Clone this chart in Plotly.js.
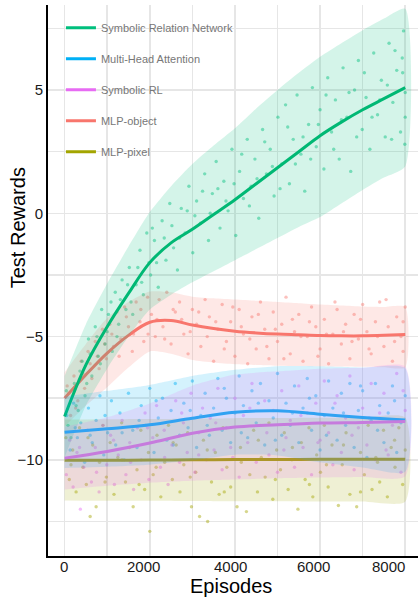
<!DOCTYPE html>
<html>
<head>
<meta charset="utf-8">
<script src="https://cdn.plot.ly/plotly-3.0.1.min.js"></script>
<style>html,body{margin:0;padding:0;background:#fff;}#chart{width:420px;height:597px;}</style>
</head>
<body>
<div id="chart"></div>
<script>
// ---- series names / colours ----
const seriesNames = ["Symbolic Relation Network", "Multi-Head Attention", "Symbolic RL", "MLP-object", "MLP-pixel"];
const legendColors = ["#00BF7D", "#00B0F6", "#E76BF3", "#F8766D", "#A3A500"];
const xTitle = "Episodes", yTitle = "Test Rewards";
const xTickVals = [0, 2000, 4000, 6000, 8000];
const xTickText = ["0", "2000", "4000", "6000", "8000"];

// ---- smoothed curves (mean and band) ----
const xFine = [0,500,1000,1500,2000,2500,3000,3500,4000,4500,5000,5500,6000,6500,7000,7500,8000];
const srnMid = [-8.24,-6.15,-4.6,-3.25,-2.0,-1.2,-0.65,-0.05,0.55,1.2,1.85,2.5,3.15,3.7,4.2,4.65,5.1];
const srnHi  = [-6.6,-4.5,-2.85,-1.35,0.05,1.1,2.0,2.75,3.45,4.25,5.0,5.7,6.35,6.9,7.43,7.9,8.3];
const srnLo  = [-9.9,-7.8,-6.3,-5.0,-3.9,-3.3,-2.8,-2.35,-1.9,-1.45,-1.0,-0.55,-0.15,0.4,0.95,1.45,1.9];

const mlpObjMid = [-7.5,-6.55,-5.67,-4.95,-4.42,-4.35,-4.53,-4.67,-4.78,-4.85,-4.9,-4.93,-4.96,-4.97,-4.97,-4.95,-4.92];
const mlpObjHi  = [-6.45,-5.3,-4.25,-3.6,-3.17,-3.2,-3.38,-3.45,-3.5,-3.55,-3.6,-3.65,-3.7,-3.74,-3.78,-3.8,-3.8];
const mlpObjLo  = [-8.65,-7.8,-7.05,-6.25,-5.6,-5.7,-5.95,-6.05,-6.12,-6.15,-6.18,-6.19,-6.2,-6.21,-6.22,-6.24,-6.25];

const xCoarse = [0,1000,2000,3000,4000,5000,6000,7000,8000];
const mhaMid = [-8.88,-8.74,-8.58,-8.31,-8.07,-8.01,-8.15,-8.28,-8.38];
const mhaHi  = [-7.43,-7.2,-6.96,-6.6,-6.35,-6.2,-6.2,-6.25,-6.28];
const mhaLo  = [-10.33,-10.28,-10.2,-10.02,-9.79,-9.82,-10.1,-10.31,-10.48];

const srlMid = [-9.93,-9.66,-9.32,-8.92,-8.67,-8.58,-8.51,-8.48,-8.44];
const srlHi  = [-8.66,-8.27,-7.71,-6.99,-6.54,-6.41,-6.3,-6.26,-6.21];
const srlLo  = [-11.2,-11.05,-10.93,-10.85,-10.8,-10.75,-10.72,-10.7,-10.67];

const pixMid = [-10.02,-10.02,-10.01,-10.0,-9.99,-9.99,-9.98,-9.98,-9.98];
const pixHi  = [-8.36,-8.35,-8.34,-8.33,-8.31,-8.3,-8.29,-8.28,-8.28];
const pixLo  = [-11.65,-11.66,-11.66,-11.67,-11.68,-11.68,-11.69,-11.69,-11.7];

// ---- raw test points ----
const srnPtsX = [40,150,230,320,410,480,560,640,720,790,870,950,1030,1120,1190,1270,1350,1440,1520,1600,1680,1770,1850,1930,2020,2110,2200,2290,2380,2470,2560,2650,2740,2830,2920,3010,3100,3190,3290,3380,3470,3560,3650,3740,3840,3930,4020,4110,4200,4290,4380,4470,4560,4650,4740,4830,4920,5010,5100,5190,5280,5370,5460,5550,5640,5730,5820,5910,6000,6090,6180,6270,6360,6450,6540,6630,6720,6810,6900,6990,7080,7170,7260,7350,7440,7530,7620,7710,7800,7890,7960,8000,7930,7990,
  80,270,360,520,600,760,840,1000,1090,1230,1310,1480,1560,1720,1810,1980,2060,2160,2340,2520,2700,2880,3060,3240,3420,3600,3790,3980,4160,4340,4520,4700,4880,5060,5240,5420,5600,5780,5960,6140,6320,6500,6680,6860,7040,7220,7400,7580,7760,7940,8000,7680];
const srnPtsY = [-7.2,-9.1,-6.9,-8.0,-6.0,-7.4,-5.1,-6.6,-4.6,-5.8,-3.9,-5.3,-4.1,-5.6,-3.2,-4.5,-2.7,-3.9,-2.2,-4.1,-2.9,-1.5,-3.3,-0.8,-2.5,-1.1,-3.0,-0.3,-1.9,0.4,-1.4,-2.3,0.2,-0.8,1.1,-1.6,0.5,-0.4,1.6,-1.1,0.8,2.1,-0.6,1.3,0.1,2.6,-0.9,1.7,0.6,3.0,1.1,2.2,-0.2,3.4,1.6,2.6,0.7,3.9,2.0,4.4,1.2,3.0,4.8,2.4,0.9,3.6,5.1,2.7,4.2,1.8,5.5,3.3,4.6,2.2,5.9,3.9,1.7,5.0,6.2,3.4,4.7,2.6,6.5,4.0,5.4,3.1,6.9,4.5,5.8,3.3,7.4,4.9,6.3,2.8,
  -8.6,-7.8,-6.4,-6.9,-5.7,-5.0,-6.1,-4.8,-3.6,-5.0,-3.5,-2.9,-3.6,-2.2,-2.8,-2.0,-0.6,-2.0,-1.0,-0.5,-1.0,0.1,-0.1,0.9,0.0,1.0,0.5,1.2,2.4,0.3,1.4,2.9,1.9,1.0,3.5,2.0,3.1,2.2,3.6,4.8,2.6,3.8,4.9,3.1,5.7,3.9,4.6,5.2,6.6,5.7,3.9,3.0];

const mlpObjPtsX = [60,140,220,310,390,470,550,640,720,810,890,980,1060,1150,1230,1320,1410,1500,1590,1680,1770,1860,1950,2040,2130,2220,2310,2400,2500,2600,2700,2800,2900,3000,3100,3200,3300,3400,3500,3600,3700,3800,3900,4000,4100,4200,4300,4400,4500,4600,4700,4800,4900,5000,5100,5200,5300,5400,5500,5600,5700,5800,5900,6000,6100,6200,6300,6400,6500,6600,6700,6800,6900,7000,7100,7200,7300,7400,7500,7600,7700,7800,7900,8000,7950,
  100,260,430,600,770,940,1110,1280,1450,1620,1790,1960,2170,2350,2550,2750,2950,3150,3350,3550,3750,3950,4150,4350,4550,4750,4950,5150,5350,5550,5750,5950,6150,6350,6550,6750,6950,7150,7350,7550,7750,7950];
const mlpObjPtsY = [-7.0,-8.2,-6.6,-7.6,-6.0,-7.1,-5.6,-6.7,-5.2,-6.3,-4.7,-5.9,-4.5,-5.4,-4.0,-5.1,-3.8,-4.6,-5.6,-3.6,-4.4,-5.2,-3.4,-4.1,-5.0,-3.5,-4.6,-3.2,-5.3,-4.0,-3.6,-4.9,-5.7,-3.9,-4.5,-5.4,-3.5,-4.2,-6.0,-4.7,-3.7,-5.2,-4.4,-5.8,-3.9,-4.9,-6.1,-4.2,-5.5,-3.6,-4.7,-5.9,-4.0,-5.2,-4.5,-3.4,-5.7,-4.8,-4.1,-6.0,-5.0,-3.8,-4.6,-5.5,-4.3,-6.1,-4.9,-3.9,-5.3,-4.5,-5.9,-4.1,-5.1,-3.7,-4.8,-5.7,-4.4,-3.6,-5.4,-4.6,-6.0,-4.2,-5.0,-3.8,-5.6,
  -7.3,-7.9,-6.5,-6.1,-5.8,-5.3,-4.9,-5.8,-4.2,-4.9,-3.9,-4.9,-4.3,-5.1,-3.9,-4.3,-4.8,-4.0,-5.0,-4.4,-5.5,-3.8,-4.6,-5.1,-4.1,-5.4,-4.7,-5.9,-4.3,-5.0,-4.4,-5.8,-4.9,-3.6,-4.8,-5.2,-4.3,-5.5,-5.0,-3.5,-5.2,-4.4];

const mhaPtsX = [50,130,210,300,380,470,560,650,740,830,920,1010,1100,1200,1300,1400,1500,1600,1700,1800,1900,2000,2100,2200,2300,2400,2500,2600,2700,2800,2900,3000,3100,3200,3300,3400,3500,3600,3700,3800,3900,4000,4100,4200,4300,4400,4500,4600,4700,4800,4900,5000,5100,5200,5300,5400,5500,5600,5700,5800,5900,6000,6100,6200,6300,6400,6500,6600,6700,6800,6900,7000,7100,7200,7300,7400,7500,7600,7700,7800,7900,8000,
  250,600,950,1350,1750,2150,2550,2950,3350,3750,4150,4550,4950,5350,5750,6150,6550,6950,7350,7750];
const mhaPtsY = [-8.2,-9.6,-7.7,-9.1,-8.5,-10.1,-7.9,-9.3,-8.4,-7.4,-9.8,-8.9,-7.6,-9.4,-8.1,-10.0,-7.3,-8.8,-9.5,-7.8,-8.6,-7.1,-9.7,-8.3,-7.5,-9.2,-8.0,-6.9,-9.0,-7.7,-8.7,-6.8,-9.5,-8.2,-7.3,-9.0,-7.9,-6.7,-8.8,-7.5,-9.3,-8.1,-6.6,-7.8,-9.1,-7.2,-8.5,-6.9,-9.4,-7.6,-8.3,-6.5,-9.0,-7.7,-8.6,-7.0,-9.3,-7.9,-6.7,-8.8,-7.4,-9.6,-8.2,-6.8,-7.9,-9.2,-7.3,-8.6,-6.9,-9.5,-8.0,-7.2,-9.9,-8.4,-6.9,-7.8,-9.3,-8.1,-7.0,-9.7,-8.5,-7.4,
  -8.7,-9.0,-8.2,-8.9,-8.4,-7.6,-9.4,-8.0,-8.6,-7.1,-8.9,-7.7,-9.2,-8.1,-7.5,-9.0,-8.1,-7.0,-8.8,-7.6];

const srlPtsX = [40,120,200,290,370,450,540,630,720,810,900,990,1080,1170,1260,1350,1440,1530,1620,1710,1800,1890,1980,2070,2160,2250,2340,2430,2520,2610,2700,2790,2880,2970,3060,3150,3240,3330,3420,3510,3600,3700,3800,3900,4000,4100,4200,4300,4400,4500,4600,4700,4800,4900,5000,5100,5200,5300,5400,5500,5600,5700,5800,5900,6000,6100,6200,6300,6400,6500,6600,6700,6800,6900,7000,7100,7200,7300,7400,7500,7600,7700,7800,7900,8000,
  350,750,1150,1550,1950,2350,2750,3150,3550,3950,4350,4750,5150,5550,5950,6350,6750,7150,7550,7950];
const srlPtsY = [-10.6,-9.2,-11.1,-9.7,-12.0,-10.3,-8.8,-10.9,-9.5,-11.3,-8.6,-10.2,-9.0,-11.0,-9.8,-8.4,-10.6,-9.3,-11.2,-8.7,-10.0,-8.1,-10.8,-9.1,-7.8,-10.3,-8.8,-11.0,-9.4,-7.6,-10.1,-8.5,-9.7,-7.3,-10.5,-8.9,-7.9,-10.0,-8.3,-9.6,-7.1,-10.4,-8.7,-9.5,-7.5,-10.7,-8.2,-9.3,-6.9,-10.1,-8.6,-7.6,-9.8,-8.0,-10.5,-7.2,-9.1,-8.4,-10.3,-7.0,-9.5,-8.1,-10.6,-7.7,-9.2,-6.8,-8.9,-10.2,-7.4,-9.7,-8.3,-6.6,-10.4,-8.7,-7.9,-9.4,-6.9,-10.0,-8.1,-7.3,-9.8,-8.6,-6.5,-10.5,-8.0,
  -9.5,-10.5,-9.2,-10.1,-8.7,-9.9,-8.1,-9.8,-8.5,-9.9,-7.9,-8.9,-9.6,-8.2,-9.3,-7.7,-9.0,-8.3,-9.6,-7.2];

const pixPtsX = [30,110,190,270,350,430,510,600,660,740,820,900,980,1070,1160,1250,1340,1430,1520,1610,1700,1790,1880,1970,2000,2080,2170,2260,2350,2440,2530,2620,2710,2800,2890,2980,3080,3170,3260,3360,3450,3540,3630,3720,3810,3900,4050,4130,4270,4350,4440,4530,4620,4710,4800,4890,4980,5070,5160,5250,5340,5480,5560,5650,5740,5830,5920,6010,6100,6190,6280,6430,6520,6610,6700,6860,6950,7040,7130,7220,7310,7400,7490,7580,7670,7760,7850,7940,8000,
  150,550,950,1350,1750,2150,2550,2950,3350,3750,4150,4550,4950,5350,5750,6150,6550,6950,7350,7750];
const pixPtsY = [-9.1,-10.8,-9.6,-11.3,-8.7,-10.3,-11.0,-12.3,-9.4,-11.9,-10.1,-8.6,-10.7,-9.3,-11.4,-9.9,-8.5,-10.9,-9.5,-11.9,-10.4,-8.8,-11.2,-9.7,-12.9,-10.6,-9.0,-11.5,-10.1,-8.6,-10.8,-9.4,-11.3,-10.2,-8.9,-11.9,-10.5,-12.3,-9.2,-12.5,-10.9,-9.7,-11.4,-8.7,-10.3,-11.1,-11.9,-9.5,-12.1,-10.6,-8.8,-11.3,-9.9,-10.7,-8.5,-11.6,-9.6,-10.4,-8.9,-11.2,-10.0,-12.0,-9.3,-10.8,-8.7,-11.5,-9.8,-10.5,-8.6,-11.1,-9.4,-11.85,-10.2,-8.9,-11.4,-11.9,-9.7,-10.6,-8.6,-11.2,-9.9,-10.9,-8.8,-11.5,-9.5,-10.3,-8.7,-11.0,-9.6,
  -10.2,-9.1,-10.9,-10.0,-11.0,-10.3,-9.3,-10.7,-9.6,-11.3,-10.1,-9.2,-10.8,-9.5,-11.0,-10.2,-9.4,-11.3,-10.1,-9.2];

// ---- axis ticks ----
const yTickStep = 5, yMinorStep = 2.5, xMinorStep = 1000;
// label nudges (px) so that the x labels sit where the reference prints them
const xLabelNudge = [-1, -6, -4, -7, -17];

function rgba(hex, a){
  const n = parseInt(hex.slice(1),16);
  return `rgba(${(n>>16)&255},${(n>>8)&255},${n&255},${a})`;
}
function pts(x, y, c){
  return {type:'scatter', mode:'markers', x:x, y:y, showlegend:false, hoverinfo:'skip',
          marker:{size:3.4, color:c, opacity:0.45, line:{width:0}}};
}
function band(x, hi, lo, c){
  return {type:'scatter', mode:'lines', x:x.concat(x.slice().reverse()), y:hi.concat(lo.slice().reverse()),
          fill:'toself', fillcolor:rgba(c,0.17), line:{width:0, shape:'spline', smoothing:0.6}, showlegend:false, hoverinfo:'skip'};
}
function line(x, y, c){
  return {type:'scatter', mode:'lines', x:x, y:y, line:{color:c, width:3, shape:'spline', smoothing:1}, showlegend:false, hoverinfo:'skip'};
}

const cSRN = "#00BF7D", cMHA = "#00B0F6", cSRL = "#E76BF3", cObj = "#F8766D", cPix = "#A3A500";

const traces = [
  pts(mlpObjPtsX, mlpObjPtsY, cObj),
  pts(pixPtsX, pixPtsY, cPix),
  pts(srnPtsX, srnPtsY, cSRN),
  pts(mhaPtsX, mhaPtsY, cMHA),
  pts(srlPtsX, srlPtsY, cSRL),
  band(xFine, mlpObjHi, mlpObjLo, cObj), line(xFine, mlpObjMid, cObj),
  band(xCoarse, pixHi, pixLo, cPix), line(xCoarse, pixMid, "#A09F00"),
  band(xFine, srnHi, srnLo, cSRN), line(xFine, srnMid, "#00B874"),
  band(xCoarse, mhaHi, mhaLo, cMHA), line(xCoarse, mhaMid, "#0DAEF2"),
  band(xCoarse, srlHi, srlLo, cSRL), line(xCoarse, srlMid, "#C67BDD"),
];
seriesNames.forEach((n,i)=>{
  traces.push({type:'scatter', mode:'lines', x:[null], y:[null], name:n, legendgroup:'g'+i,
               line:{color:legendColors[i], width:3}, hoverinfo:'skip'});
});

const gridC = '#e6e6e6';
const fontFam = 'Liberation Sans, Arial, sans-serif';
const annotations = [
  {text:xTitle, xref:'paper', yref:'paper', x:0.495, y:-0.0545, xanchor:'center', yanchor:'middle',
   showarrow:false, font:{size:20, color:'#000'}},
  {text:yTitle, xref:'paper', yref:'paper', x:-0.082, y:0.596, xanchor:'center', yanchor:'middle',
   textangle:-90, showarrow:false, font:{size:20, color:'#000'}}
];
xTickVals.forEach((v,i)=>{
  annotations.push({text:xTickText[i], xref:'x', yref:'paper', x:v, y:-0.0185, xanchor:'center', yanchor:'middle',
    xshift:xLabelNudge[i], showarrow:false, borderpad:0, font:{size:15, color:'#1a1a1a'}});
});

const layout = {
  width:420, height:597,
  margin:{l:48, r:2, t:5, b:41},
  paper_bgcolor:'#fff', plot_bgcolor:'#fff',
  font:{family:fontFam, color:'#1a1a1a'},
  showlegend:true,
  legend:{x:0.035, y:0.985, xanchor:'left', yanchor:'top', bgcolor:'rgba(0,0,0,0)',
          font:{size:11, color:'#777', family:fontFam}, traceorder:'grouped', tracegroupgap:12},
  xaxis:{range:[-390, 8300], tick0:0, dtick:2000, showgrid:true, gridcolor:gridC, gridwidth:1.5,
         minor:{tick0:0, dtick:xMinorStep, showgrid:true, gridcolor:gridC, gridwidth:1.5},
         zeroline:false, showline:true, linecolor:'#000', linewidth:2, ticks:'', showticklabels:false},
  yaxis:{range:[-13.9, 8.45], tick0:0, dtick:yTickStep, showgrid:true, gridcolor:gridC, gridwidth:1.5,
         minor:{tick0:0, dtick:yMinorStep, showgrid:true, gridcolor:gridC, gridwidth:1.5},
         zeroline:false, showline:true, linecolor:'#000', linewidth:2, ticks:'',
         tickfont:{size:15, color:'#1a1a1a'}},
  annotations:annotations
};
Plotly.newPlot('chart', traces, layout, {displayModeBar:false, staticPlot:true});
</script>
</body>
</html>
